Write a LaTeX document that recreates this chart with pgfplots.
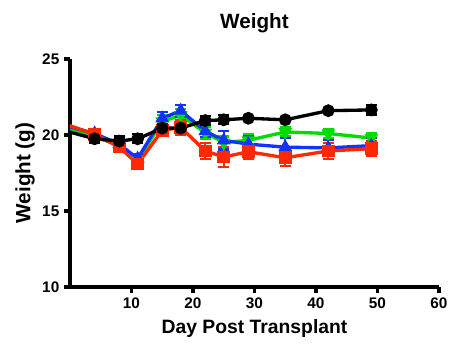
\documentclass[border=0pt]{standalone}
\usepackage{pgfplots}
\pgfplotsset{compat=1.18}
\usepackage{fontspec}
\setmainfont{Liberation Sans}
\definecolor{cblue}{RGB}{20,50,255}
\definecolor{cgreen}{RGB}{0,220,0}
\definecolor{cred}{RGB}{255,40,0}
\begin{document}
\begin{tikzpicture}
\useasboundingbox (-52.5pt,-47.25pt) rectangle (291pt,215.25pt);
\begin{axis}[
  scale only axis, width=276.75pt, height=171pt,
  xmin=0, xmax=60, ymin=10, ymax=25,
  xtick={10,20,...,60}, ytick={10,15,20,25},
  axis x line*=bottom, axis y line*=left,
  axis line style={line width=2.4pt},
  tick style={line width=2.4pt, black},
  tick align=outside, major tick length=4.5pt,
  /pgf/number format/assume math mode=true,
  ticklabel style={font=\fontsize{11.5}{13}\selectfont\bfseries},
  title={Weight}, title style={font=\fontsize{15.5}{17}\selectfont\bfseries, at={(axis description cs:0.5,1.097)}, anchor=base},
  xlabel={Day Post Transplant}, xlabel style={font=\fontsize{14.5}{16}\selectfont\bfseries, at={(axis description cs:0.5,-0.18)}, anchor=center},
  ylabel={Weight (g)}, ylabel style={font=\fontsize{15.5}{17}\selectfont\bfseries, at={(axis description cs:-0.122,0.5)}, anchor=center},
  clip=true,
  every axis plot/.append style={line width=2.5pt, mark size=3.5pt,
    error bars/y dir=both, error bars/y explicit,
    error bars/error bar style={line width=1.6pt},
    error bars/error mark options={rotate=90, mark size=4.2pt, line width=1.6pt}},
]
\addplot[cgreen, mark=triangle*, mark options={rotate=180}] table[x=x,y=y,y error=e] {
x y e
-1 20.55 0
4 19.9 0.3
8 19.3 0.3
11 18.3 0.3
15 20.9 0.4
18 21.3 0.4
22 20.15 0.4
25 19.5 0.4
29 19.65 0.4
35 20.2 0.3
42 20.1 0.3
49 19.8 0.3
};
\addplot[cblue, mark=triangle*] table[x=x,y=y,y error=e] {
x y e
-1 20.65 0
4 20.1 0.3
8 19.4 0.3
11 18.45 0.3
15 21.1 0.4
18 21.6 0.4
22 20.25 0.4
25 19.65 0.6
29 19.4 0.5
35 19.2 0.6
42 19.15 0.5
49 19.3 0.5
};
\addplot[cred, mark=square*] table[x=x,y=y,y error=e] {
x y e
-1 20.75 0
4 20.05 0.3
8 19.2 0.3
11 18.1 0.3
15 20.3 0.3
18 20.5 0.5
22 18.95 0.55
25 18.55 0.65
29 18.9 0.5
35 18.5 0.55
42 18.95 0.55
49 19.1 0.5
};
\addplot[black, mark=*] table[x=x,y=y,y error=e] {
x y e
-1 20.3 0
4 19.75 0.3
8 19.6 0.3
11 19.75 0.3
15 20.45 0.3
18 20.45 0.3
22 20.95 0.3
25 21.0 0.3
29 21.1 0.1
35 21.0 0.1
42 21.6 0.1
49 21.65 0.3
};
\end{axis}
\end{tikzpicture}
\end{document}
